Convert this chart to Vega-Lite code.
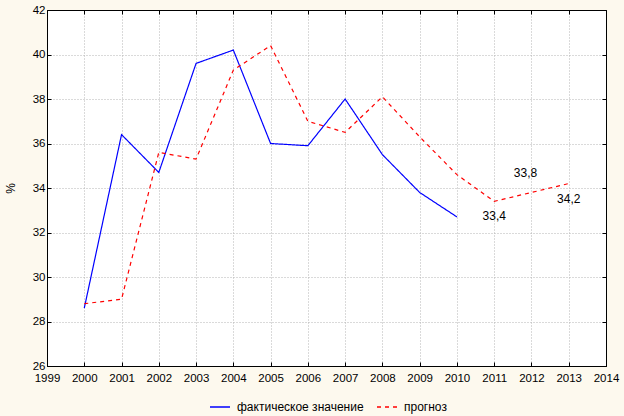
{
  "$schema": "https://vega.github.io/schema/vega-lite/v6.json",
  "autosize": "none",
  "width": 559,
  "height": 356,
  "padding": {"left": 47, "top": 10, "right": 18, "bottom": 50},
  "background": "#fdf9ee",
  "config": {
    "view": {"fill": "white", "stroke": "black", "strokeWidth": 1},
    "font": "Liberation Sans",
    "axis": {
      "labelFont": "Liberation Sans",
      "labelFontSize": 11.5,
      "labelColor": "black",
      "domainColor": "black",
      "tickColor": "black",
      "gridColor": "#b4b4b4",
      "gridDash": [1, 2],
      "gridWidth": 1,
      "tickSize": -4,
      "titleFont": "Liberation Sans",
      "titleFontWeight": "normal",
      "titleFontSize": 12,
      "titleColor": "black"
    }
  },
  "data": {
    "values": [
      {"year": 2000, "value": 28.6, "series": "фактическое значение"},
      {"year": 2001, "value": 36.4, "series": "фактическое значение"},
      {"year": 2002, "value": 34.7, "series": "фактическое значение"},
      {"year": 2003, "value": 39.6, "series": "фактическое значение"},
      {"year": 2004, "value": 40.2, "series": "фактическое значение"},
      {"year": 2005, "value": 36.0, "series": "фактическое значение"},
      {"year": 2006, "value": 35.9, "series": "фактическое значение"},
      {"year": 2007, "value": 38.0, "series": "фактическое значение"},
      {"year": 2008, "value": 35.5, "series": "фактическое значение"},
      {"year": 2009, "value": 33.8, "series": "фактическое значение"},
      {"year": 2010, "value": 32.7, "series": "фактическое значение"},
      {"year": 2000, "value": 28.8, "series": "прогноз"},
      {"year": 2001, "value": 29.0, "series": "прогноз"},
      {"year": 2002, "value": 35.6, "series": "прогноз"},
      {"year": 2003, "value": 35.3, "series": "прогноз"},
      {"year": 2004, "value": 39.3, "series": "прогноз"},
      {"year": 2005, "value": 40.4, "series": "прогноз"},
      {"year": 2006, "value": 37.0, "series": "прогноз"},
      {"year": 2007, "value": 36.5, "series": "прогноз"},
      {"year": 2008, "value": 38.1, "series": "прогноз"},
      {"year": 2009, "value": 36.3, "series": "прогноз"},
      {"year": 2010, "value": 34.6, "series": "прогноз"},
      {"year": 2011, "value": 33.4, "series": "прогноз", "label": "33,4", "pos": "below"},
      {"year": 2012, "value": 33.8, "series": "прогноз", "label": "33,8", "pos": "above"},
      {"year": 2013, "value": 34.2, "series": "прогноз", "label": "34,2", "pos": "below"}
    ]
  },
  "layer": [
    {
      "mark": {"type": "line", "strokeWidth": 1.2},
      "encoding": {
        "x": {
          "field": "year",
          "type": "quantitative",
          "scale": {"domain": [1999, 2014], "nice": false, "zero": false},
          "axis": {"values": [1999, 2000, 2001, 2002, 2003, 2004, 2005, 2006, 2007, 2008, 2009, 2010, 2011, 2012, 2013, 2014], "format": "d", "title": null, "labelPadding": 10, "labelFlush": false, "labelOverlap": false}
        },
        "y": {
          "field": "value",
          "type": "quantitative",
          "scale": {"domain": [26, 42], "nice": false, "zero": false},
          "axis": {"values": [26, 28, 30, 32, 34, 36, 38, 40, 42], "title": "%", "titlePadding": 15, "labelPadding": 6, "labelFlush": false, "labelOverlap": false}
        },
        "color": {
          "field": "series",
          "type": "nominal",
          "scale": {"domain": ["фактическое значение", "прогноз"], "range": ["#0000ff", "#ff0000"]},
          "legend": {
            "orient": "none",
            "legendX": 162,
            "legendY": 386,
            "direction": "horizontal",
            "title": null,
            "symbolType": "stroke",
            "symbolSize": 400,
            "symbolStrokeWidth": 1.5,
            "labelFont": "Liberation Sans",
            "labelFontSize": 12,
            "labelColor": "black",
            "labelOffset": 6,
            "columnPadding": 10
          }
        },
        "strokeDash": {
          "field": "series",
          "type": "nominal",
          "scale": {"domain": ["фактическое значение", "прогноз"], "range": [[1, 0], [4, 4]]},
          "legend": null
        }
      }
    },
    {
      "transform": [{"filter": "datum.pos === 'below'"}],
      "mark": {"type": "text", "baseline": "top", "dy": 10, "fontSize": 12, "font": "Liberation Sans", "color": "black"},
      "encoding": {
        "x": {"field": "year", "type": "quantitative", "axis": null},
        "y": {"field": "value", "type": "quantitative", "axis": null},
        "text": {"field": "label"}
      }
    },
    {
      "transform": [{"filter": "datum.pos === 'above'"}],
      "mark": {"type": "text", "baseline": "bottom", "dy": -12, "dx": -6, "fontSize": 12, "font": "Liberation Sans", "color": "black"},
      "encoding": {
        "x": {"field": "year", "type": "quantitative", "axis": null},
        "y": {"field": "value", "type": "quantitative", "axis": null},
        "text": {"field": "label"}
      }
    },
    {
      "mark": {"type": "point", "opacity": 0},
      "encoding": {
        "x": {"field": "year", "type": "quantitative", "axis": {"orient": "top", "values": [1999, 2000, 2001, 2002, 2003, 2004, 2005, 2006, 2007, 2008, 2009, 2010, 2011, 2012, 2013, 2014], "labels": false, "grid": false, "title": null}},
        "y": {"field": "value", "type": "quantitative", "axis": {"orient": "right", "values": [26, 28, 30, 32, 34, 36, 38, 40, 42], "labels": false, "grid": false, "title": null}}
      }
    }
  ],
  "resolve": {"axis": {"x": "independent", "y": "independent"}}
}
